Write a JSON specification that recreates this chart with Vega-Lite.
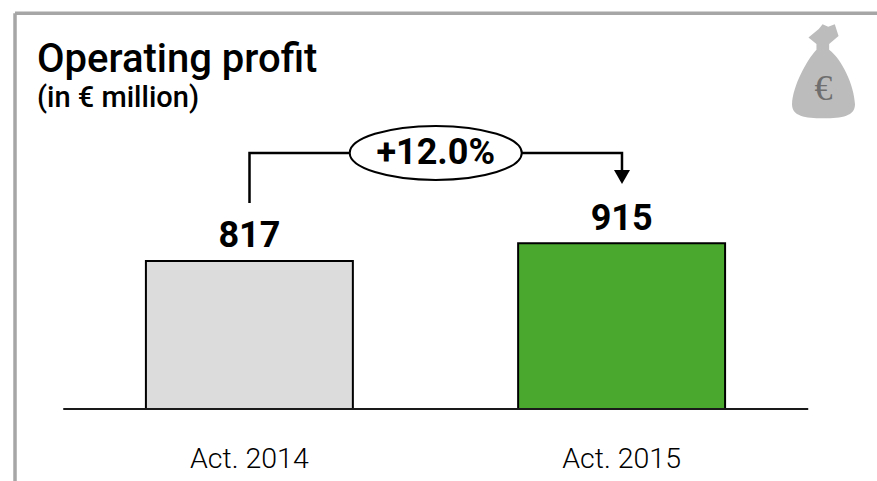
{
"$schema":"https://vega.github.io/schema/vega-lite/v6.json",
"width":877,"height":284,
"autosize":{"type":"none"},
"padding":{"left":0,"top":125,"right":0,"bottom":72},
"background":"white",
"config":{"view":{"stroke":null},"font":"Roboto"},
"title":{"text":"Operating profit","subtitle":"(in € million)","anchor":"start","frame":"group","dx":37,"offset":-101,"font":"Roboto","fontSize":40,"fontWeight":500,"color":"#000000","subtitleFont":"Roboto","subtitleFontSize":29,"subtitleFontWeight":500,"subtitleColor":"#000000","subtitlePadding":4},
"datasets":{
"bars":[{"period":"Act. 2014","value":817},{"period":"Act. 2015","value":915}],
"bracket":[{"step":1,"idx":1,"level":1137},{"step":2,"idx":1,"level":1413},{"step":3,"idx":2,"level":1413},{"step":4,"idx":2,"level":1280}],
"change":[{"idx":1.5,"level":1413,"label":"+12.0%"}],
"tip":[{"idx":2,"level":1280}],
"baseline":[{"idx":0.5,"idx2":2.5,"level":0}],
"frameTop":[{"idx":0.3705,"idx2":2.6846,"level":2183}],
"frameLeft":[{"idx":0.3705,"level":2183,"level2":-400}],
"bag":[{"idx":2.541,"level":1863}],
"euro":[{"idx":2.541,"level":1705,"label":"€"}]
},
"resolve":{"scale":{"x":"independent"}},
"layer":[
{"data":{"name":"frameTop"},"mark":{"type":"rule","stroke":"#a6a6a6","strokeWidth":3.5},
 "encoding":{"x":{"field":"idx","type":"quantitative","scale":{"domain":[0.3302,2.6846]},"axis":null},"x2":{"field":"idx2"},"y":{"field":"level","type":"quantitative","scale":{"domain":[0,1567]},"axis":null}}},
{"data":{"name":"frameLeft"},"mark":{"type":"rule","stroke":"#a6a6a6","strokeWidth":3.5},
 "encoding":{"x":{"field":"idx","type":"quantitative","scale":{"domain":[0.3302,2.6846]},"axis":null},"y":{"field":"level","type":"quantitative","scale":{"domain":[0,1567]},"axis":null},"y2":{"field":"level2"}}},
{"data":{"name":"bag"},"mark":{"type":"point","filled":true,"fill":"#bcbcbc","opacity":1,"shape":"M -0.32 -0.72 L -0.1 -0.9 L -0.02 -1 L 0.1 -0.95 L 0.24 -1 L 0.32 -0.75 L 0.12 -0.58 L 0.12 -0.46 C 0.4 -0.25 0.65 0.3 0.67 0.7 C 0.67 0.95 0.4 1 0 1 C -0.4 1 -0.67 0.95 -0.67 0.7 C -0.65 0.3 -0.35 -0.25 -0.15 -0.46 L -0.15 -0.58 Z","size":8836},
 "encoding":{"x":{"field":"idx","type":"quantitative","scale":{"domain":[0.3302,2.6846]},"axis":null},"y":{"field":"level","type":"quantitative","scale":{"domain":[0,1567]},"axis":null}}},
{"data":{"name":"euro"},"mark":{"type":"text","font":"Liberation Serif","fontSize":36,"fill":"#6e6e6e","align":"center","baseline":"alphabetic"},
 "encoding":{"x":{"field":"idx","type":"quantitative","scale":{"domain":[0.3302,2.6846]},"axis":null},"y":{"field":"level","type":"quantitative","scale":{"domain":[0,1567]},"axis":null},"text":{"field":"label"}}},
{"data":{"name":"bars"},"mark":{"type":"bar","stroke":"#000000","strokeWidth":2},
 "encoding":{"x":{"field":"period","type":"nominal","title":null,"sort":null,"scale":{"type":"band","domain":["Act. 2014","Act. 2015"],"range":[0,871],"paddingInner":0.444,"paddingOuter":0.392},"axis":{"domain":false,"ticks":false,"labelAngle":0,"labelFont":"Roboto","labelFontWeight":300,"labelFontSize":28.5,"labelColor":"#000000","labelPadding":35,"grid":false}},
 "y":{"field":"value","type":"quantitative","scale":{"domain":[0,1567]},"axis":null},
 "fill":{"field":"period","type":"nominal","scale":{"domain":["Act. 2014","Act. 2015"],"range":["#dcdcdc","#4aa82f"]},"legend":null}}},
{"data":{"name":"bars"},"mark":{"type":"text","font":"Roboto","fontWeight":700,"fontSize":36,"fill":"#000000","align":"center","baseline":"alphabetic","dy":-13.5},
 "encoding":{"x":{"field":"period","type":"nominal","sort":null,"scale":{"type":"band","domain":["Act. 2014","Act. 2015"],"range":[0,871],"paddingInner":0.444,"paddingOuter":0.392},"axis":null},
 "y":{"field":"value","type":"quantitative","scale":{"domain":[0,1567]},"axis":null},"text":{"field":"value","type":"quantitative"}}},
{"data":{"name":"baseline"},"mark":{"type":"rule","stroke":"#1a1a1a","strokeWidth":2},
 "encoding":{"x":{"field":"idx","type":"quantitative","scale":{"domain":[0.3302,2.6846]},"axis":null},"x2":{"field":"idx2"},"y":{"field":"level","type":"quantitative","scale":{"domain":[0,1567]},"axis":null}}},
{"data":{"name":"bracket"},"mark":{"type":"line","stroke":"#000000","strokeWidth":2.5,"interpolate":"linear","strokeJoin":"miter"},
 "encoding":{"x":{"field":"idx","type":"quantitative","scale":{"domain":[0.3302,2.6846]},"axis":null},"y":{"field":"level","type":"quantitative","scale":{"domain":[0,1567]},"axis":null},"order":{"field":"step","type":"quantitative"}}},
{"data":{"name":"tip"},"mark":{"type":"point","shape":"triangle-down","filled":true,"fill":"#000000","opacity":1,"size":256},
 "encoding":{"x":{"field":"idx","type":"quantitative","scale":{"domain":[0.3302,2.6846]},"axis":null},"y":{"field":"level","type":"quantitative","scale":{"domain":[0,1567]},"axis":null}}},
{"data":{"name":"change"},"mark":{"type":"point","shape":"M -1 0 A 1 0.314 0 1 1 1 0 A 1 0.314 0 1 1 -1 0 Z","filled":true,"fill":"#ffffff","stroke":"#000000","strokeWidth":2,"opacity":1,"size":29584},
 "encoding":{"x":{"field":"idx","type":"quantitative","scale":{"domain":[0.3302,2.6846]},"axis":null},"y":{"field":"level","type":"quantitative","scale":{"domain":[0,1567]},"axis":null}}},
{"data":{"name":"change"},"mark":{"type":"text","font":"Roboto","fontWeight":700,"fontSize":36,"fill":"#000000","align":"center","baseline":"middle"},
 "encoding":{"x":{"field":"idx","type":"quantitative","scale":{"domain":[0.3302,2.6846]},"axis":null},"y":{"field":"level","type":"quantitative","scale":{"domain":[0,1567]},"axis":null},"text":{"field":"label"}}}
]
}
